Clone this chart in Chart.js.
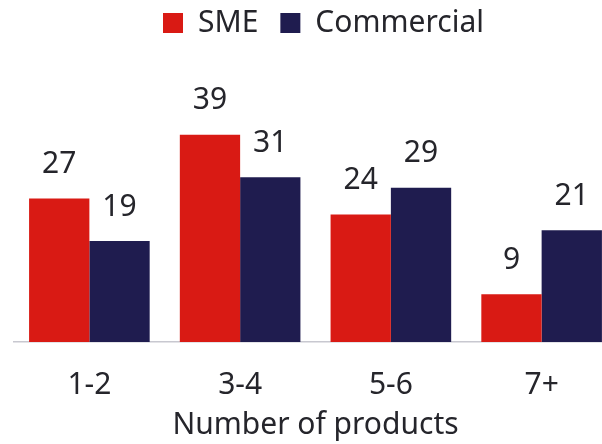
<!DOCTYPE html>
<html>
<head>
<meta charset="utf-8">
<script src="https://cdn.jsdelivr.net/npm/chart.js@4"></script>
<style>
  html, body { margin: 0; padding: 0; background: #fff; overflow: hidden; }
  #wrap { width: 617px; height: 444px; }
</style>
</head>
<body>
<div id="wrap"><canvas id="grafico"></canvas></div>
<script>
const categorias = ["1-2", "3-4", "5-6", "7+"];
const valoresSME = [27, 39, 24, 9];
const valoresCommercial = [19, 31, 29, 21];

const corSME = "#d91a14";
const corCommercial = "#1f1c4f";
const corTexto = "#25252b";
const fonte = "'Noto Sans', sans-serif";

// escreve o valor acima de cada barra
const rotulos = {
  id: "rotulos",
  afterDatasetsDraw(chart) {
    const ctx = chart.ctx;
    ctx.save();
    ctx.font = "30px " + fonte;
    ctx.fillStyle = corTexto;
    ctx.textAlign = "center";
    ctx.textBaseline = "middle";
    chart.data.datasets.forEach((ds, i) => {
      chart.getDatasetMeta(i).data.forEach((bar, j) => {
        ctx.fillText(ds.data[j], bar.x, bar.y - 34);
      });
    });
    ctx.restore();
  }
};

// empurra a legenda um pouco para a direita
const ajusteLegenda = {
  id: "ajusteLegenda",
  afterLayout(chart) {
    chart.legend.left += 8;
    chart.legend.right += 8;
  }
};

new Chart(document.getElementById("grafico"), {
  type: "bar",
  data: {
    labels: categorias,
    datasets: [
      { label: "SME", data: valoresSME, backgroundColor: corSME },
      { label: "Commercial", data: valoresCommercial, backgroundColor: corCommercial }
    ]
  },
  options: {
    responsive: true,
    maintainAspectRatio: false,
    animation: false,
    layout: { padding: { left: 14, right: 0, top: -14, bottom: 1 } },
    datasets: { bar: { categoryPercentage: 0.8, barPercentage: 1.0 } },
    plugins: {
      legend: {
        position: "top",
        labels: {
          boxWidth: 20,
          boxHeight: 20,
          padding: 22,
          color: corTexto,
          font: { family: fonte, size: 30 }
        }
      },
      tooltip: { enabled: false }
    },
    scales: {
      x: {
        grid: { display: false, drawTicks: false },
        border: { display: true, color: "#c8c8d0", width: 1.5 },
        ticks: { color: corTexto, padding: 25, font: { family: fonte, size: 30 } },
        title: {
          display: true,
          text: "Number of products",
          color: corTexto,
          padding: { top: -21, bottom: 0 },
          font: { family: fonte, size: 30 }
        }
      },
      y: { display: false, min: 0, max: 55.3 }
    }
  },
  plugins: [rotulos, ajusteLegenda]
});
</script>
</body>
</html>
